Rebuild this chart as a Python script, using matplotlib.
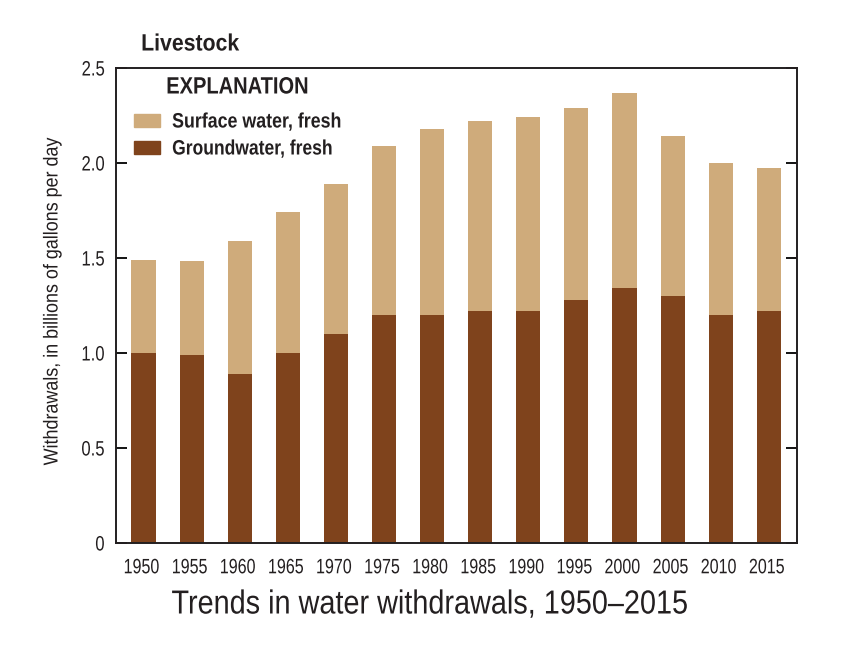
#!/usr/bin/env python3
"""Livestock water withdrawals, stacked bars by source."""

import matplotlib
matplotlib.use("Agg")
import matplotlib.pyplot as plt
import matplotlib.patheffects as pe
import numpy as np
from matplotlib.patches import Rectangle
from matplotlib.transforms import Affine2D, ScaledTranslation

years = ["1950", "1955", "1960", "1965", "1970", "1975", "1980",
         "1985", "1990", "1995", "2000", "2005", "2010", "2015"]
ground = [1.00, 0.99, 0.89, 1.00, 1.10, 1.20, 1.20, 1.22, 1.22, 1.28, 1.34, 1.30, 1.20, 1.22]
surface = [0.49, 0.495, 0.70, 0.74, 0.79, 0.89, 0.98, 1.00, 1.02, 1.01, 1.03, 0.84, 0.80, 0.755]
yticks = [0, 0.5, 1.0, 1.5, 2.0, 2.5]
yticklabels = ["0", "0.5", "1.0", "1.5", "2.0", "2.5"]

SURFACE_COLOR = "#cfab7b"
GROUND_COLOR = "#7f431c"
TEXT_COLOR = "#231f20"

W, H = 853, 654
plt.rcParams["font.family"] = ["Liberation Sans", "DejaVu Sans"]


class Narrow(pe.AbstractPathEffect):
    """Squeeze text horizontally, no condensed font is installed."""

    def __init__(self, sx, anchor=0.5):
        super().__init__()
        self.sx = sx
        self.anchor = anchor

    def draw_path(self, renderer, gc, tpath, affine, rgbFace=None):
        ext = tpath.get_extents()
        x0 = ext.x0 + self.anchor * ext.width
        squeeze = Affine2D().translate(-x0, 0).scale(self.sx, 1).translate(x0, 0)
        renderer.draw_path(gc, tpath, squeeze + affine, rgbFace)


fig = plt.figure(figsize=(W / 100, H / 100), dpi=100)
ax = fig.add_axes([116 / W, 1 - 543 / H, (797 - 116) / W, (543 - 68) / H])

x = np.arange(len(years))
ax.bar(x, ground, width=0.5, color=GROUND_COLOR)
ax.bar(x, surface, width=0.5, bottom=ground, color=SURFACE_COLOR)

ax.set_xlim(-0.572, 13.586)
ax.set_ylim(0, 2.5)
ax.set_xticks(x)
ax.set_xticklabels(years, fontsize=15, color=TEXT_COLOR)
ax.set_yticks(yticks)
ax.set_yticklabels(yticklabels, fontsize=15, color=TEXT_COLOR)
ax.tick_params(axis="x", length=0, pad=11)
ax.tick_params(axis="y", direction="in", length=8, width=1.3, right=True, pad=8)
for spine in ax.spines.values():
    spine.set_linewidth(1.4)
    spine.set_color(TEXT_COLOR)

# year labels sit slightly left of the bars in the original
shift = ScaledTranslation(-2 / 100, 0, fig.dpi_scale_trans)
for label in ax.get_xticklabels():
    label.set_transform(label.get_transform() + shift)
    label.set_path_effects([Narrow(0.77)])
for label in ax.get_yticklabels():
    label.set_path_effects([Narrow(0.8, anchor=1.0)])

fig.text(52 / W, 1 - 301 / H, "Withdrawals, in billions of gallons per day", fontsize=14.5,
         color=TEXT_COLOR, rotation=90, ha="center", va="center",
         path_effects=[Narrow(0.89)])

fig.text(141 / W, 1 - 44 / H, "Livestock", fontsize=17, fontweight="bold",
         color=TEXT_COLOR, va="center", path_effects=[Narrow(0.90, anchor=0.0)])
fig.text(430 / W, 1 - 605 / H, "Trends in water withdrawals, 1950\u20132015", fontsize=24,
         color=TEXT_COLOR, ha="center", va="center", path_effects=[Narrow(0.865)])

# hand-placed legend
fig.text(166 / W, 1 - 87 / H, "EXPLANATION", fontsize=17, fontweight="bold",
         color=TEXT_COLOR, va="center", path_effects=[Narrow(0.85, anchor=0.0)])
fig.add_artist(Rectangle((134 / W, 1 - 127 / H), 26 / W, 13 / H,
                         transform=fig.transFigure, color=SURFACE_COLOR))
fig.add_artist(Rectangle((134 / W, 1 - 154 / H), 26 / W, 13 / H,
                         transform=fig.transFigure, color=GROUND_COLOR))
fig.text(172 / W, 1 - 122 / H, "Surface water, fresh", fontsize=15, fontweight="bold",
         color=TEXT_COLOR, va="center", path_effects=[Narrow(0.855, anchor=0.0)])
fig.text(172 / W, 1 - 149 / H, "Groundwater, fresh", fontsize=15, fontweight="bold",
         color=TEXT_COLOR, va="center", path_effects=[Narrow(0.84, anchor=0.0)])

fig.savefig("out.png", dpi=100)
